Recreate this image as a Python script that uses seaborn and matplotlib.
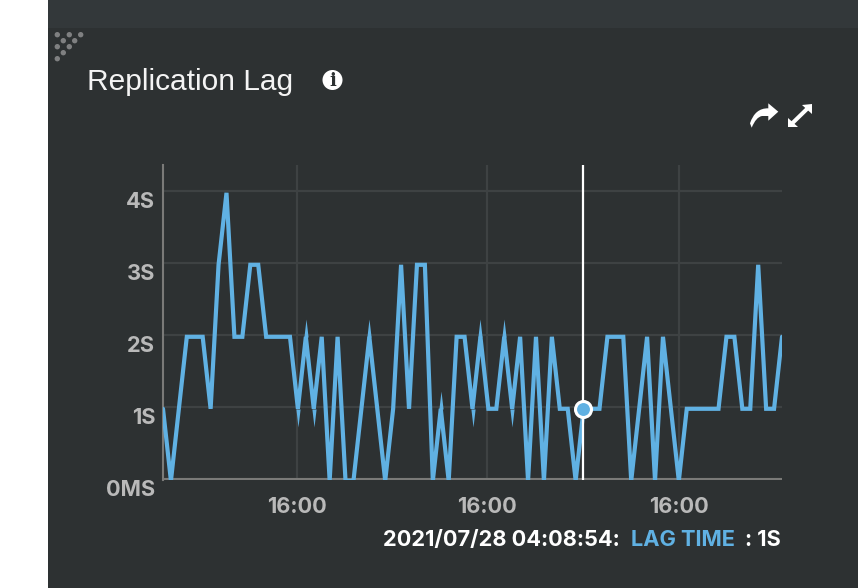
import matplotlib
matplotlib.use("Agg")
import matplotlib.pyplot as plt
import pandas as pd
import seaborn as sns
from matplotlib.patches import Circle, Polygon, Rectangle, PathPatch
from matplotlib.path import Path
from matplotlib.transforms import Affine2D

lag_seconds = [1, 0, 1, 2, 2, 2, 1, 3, 4, 2, 2, 3, 3, 2, 2, 2, 2, 1, 2, 1,
               2, 0, 2, 0, 0, 1, 2, 1, 0, 1, 3, 1, 3, 3, 0, 1, 0, 2, 2, 1,
               2, 1, 1, 2, 1, 2, 0, 2, 0, 2, 1, 1, 0, 1, 1, 1, 2, 2, 2, 0,
               1, 2, 0, 2, 1, 0, 1, 1, 1, 1, 1, 2, 2, 1, 1, 3, 1, 1, 2]
sample_index = list(range(len(lag_seconds)))
y_ticks = [0, 1, 2, 3, 4]
y_labels = ["0MS", "1S", "2S", "3S", "4S"]
x_ticks = [16.9, 40.8, 65.0]
x_labels = ["16:00", "16:00", "16:00"]
hover_index = 53
hover_value = 1

BG = "#2d3132"
STRIP = "#33383a"
BLUE = "#60b1e3"
GRID = "#3e4243"
AXIS = "#7a7a78"
LABEL = "#b9b9b9"
BOLD_FONT = "Inter"

W, H = 858, 588
sns.set_theme(style="dark")
plt.rcParams["font.family"] = ["Liberation Sans", "DejaVu Sans"]
fig = plt.figure(figsize=(W / 100, H / 100), dpi=100, facecolor="white")

# page furniture in pixel coordinates
bg = fig.add_axes([0, 0, 1, 1], zorder=0)
bg.set_xlim(0, W)
bg.set_ylim(H, 0)
bg.axis("off")
bg.add_patch(Rectangle((48, 0), W - 48, H, fc=BG, ec="none"))
bg.add_patch(Rectangle((48, 0), W - 48, 28, fc=STRIP, ec="none"))
for cx, cy in [(57.3, 34.7), (69.3, 34.7), (80.7, 34.7), (63.3, 40.7), (74.7, 40.7),
               (57.3, 46.7), (69.3, 46.7), (63.3, 52.7), (57.3, 58.7)]:
    bg.add_patch(Circle((cx, cy), 2.7, fc="#7f8081", ec="none"))
bg.text(87, 90, "Replication Lag", color="#f4f4f4", fontsize=21.5, va="baseline", ha="left")
bg.add_patch(Circle((332.5, 80), 10, fc="white", ec="none"))
bg.text(332.5, 80.5, "i", color=BG, fontsize=13, family="DejaVu Serif", weight="bold",
        ha="center", va="center")
share = Path([(778.3, 111.7), (768.3, 103.3), (768.3, 108.3), (755, 108), (750, 123.3), (751.7, 127.7),
              (756, 117), (762, 116), (768.3, 116), (768.3, 120.7), (778.3, 111.7)],
             [Path.MOVETO, Path.LINETO, Path.LINETO, Path.CURVE3, Path.CURVE3, Path.LINETO,
              Path.CURVE3, Path.CURVE3, Path.LINETO, Path.LINETO, Path.CLOSEPOLY])
bg.add_patch(PathPatch(share, fc="white", ec="none"))
bg.add_patch(Polygon([(802, 105), (812, 104), (812, 114)], fc="white", ec="none"))
bg.add_patch(Polygon([(788.3, 117.5), (788.3, 127.3), (798, 127.3)], fc="white", ec="none"))
bg.plot([792, 808], [123.5, 108], color="white", lw=2.9, solid_capstyle="butt")

bold = dict(fontsize=15.7, weight="bold", va="center", family=BOLD_FONT)
bg.text(383, 539.5, "2021/07/28 04:08:54:", color="white", ha="left", **bold)
bg.text(631, 539.5, "LAG TIME", color=BLUE, ha="left", **bold)
bg.text(781, 539.5, ": 1S", color="white", ha="right", **bold)

# chart
L, R, T, B, Y0 = 163, 782, 165, 480, 479
PX = 72
ax = fig.add_axes([L / W, 1 - B / H, (R - L) / W, (B - T) / H], zorder=1)
ax.patch.set_alpha(0)
df = pd.DataFrame({"t": sample_index, "lag": lag_seconds})
sns.lineplot(data=df, x="t", y="lag", ax=ax, color=BLUE, lw=3.0, errorbar=None, zorder=3)
line = ax.lines[0]
shift = ax.transData + Affine2D().translate(0, -1.8)
line.set_transform(shift)
line.set_solid_joinstyle("miter")
line.set_alpha(1)

# sharp joins of a one-step up and down keep their long miter tip
tip_up = Path([(-2.1, 0), (2.1, 0), (0, 18), (-2.1, 0)])
tip_down = Path([(-2.1, 0), (2.1, 0), (0, -18), (-2.1, 0)])
for i in range(1, len(lag_seconds) - 1):
    a, b, c = lag_seconds[i - 1:i + 2]
    if a == c and abs(b - a) == 1:
        ax.plot([sample_index[i]], [b], marker=tip_up if b > a else tip_down, ms=25.9,
                mfc=BLUE, mew=0, ls="none", transform=shift, zorder=3)

ax.set_xlim(0, 78)
ax.set_ylim((Y0 - B) / PX, (Y0 - T) / PX)
ax.set_xlabel("")
ax.set_ylabel("")
ax.set_yticks(y_ticks, y_labels)
ax.set_xticks(x_ticks, x_labels)
ax.grid(True, color=GRID, lw=1.6, zorder=1)
ax.set_axisbelow(True)
for s in ("top", "right", "bottom"):
    ax.spines[s].set_visible(False)
ax.spines["left"].set_color(AXIS)
ax.spines["left"].set_linewidth(1.5)
ax.axhline(0, color=AXIS, lw=1.5, zorder=2)
ax.tick_params(axis="both", length=0, colors=LABEL)
ax.tick_params(axis="y", pad=5.5)
ax.tick_params(axis="x", pad=12)
for lab in ax.get_yticklabels() + ax.get_xticklabels():
    lab.set_fontsize(15.7)
    lab.set_fontweight("bold")
    lab.set_fontfamily(BOLD_FONT)
for lab in ax.get_yticklabels():
    lab.set_verticalalignment("top")
    lab.set_transform(lab.get_transform() + Affine2D().translate(0, -1.5))
ax.axvline(hover_index - 0.03, color="white", lw=1.6, zorder=4)
ax.plot([hover_index - 0.03], [hover_value], marker="o", ms=11.5, mfc=BLUE, mec="white", mew=2.2,
        transform=shift, zorder=5, linestyle="none")

fig.savefig("out.png", dpi=100, facecolor="white")
